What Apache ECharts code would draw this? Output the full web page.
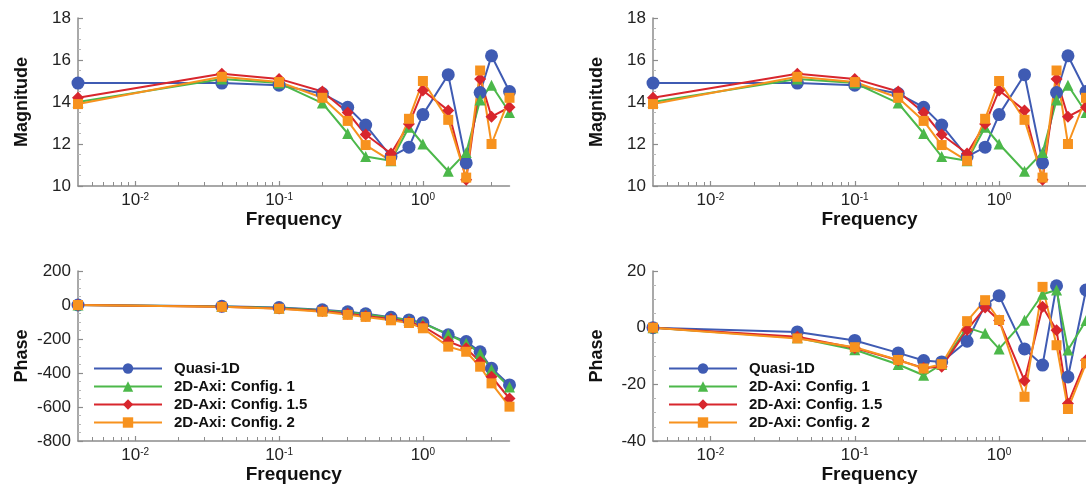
<!DOCTYPE html>
<html lang="en">
<head>
    <meta charset="UTF-8">
    <title>Frequency response</title>
    <script src="https://cdn.jsdelivr.net/npm/echarts@6/dist/echarts.min.js"></script>
    <style>
        body { margin: 0; overflow: hidden; background: #fff; }
    </style>
</head>
<body>
<div id="main" style="width: 1086px;height:489px;"></div>
<script type="text/javascript">
    // data
    var freq = [0.004, 0.04, 0.1, 0.2, 0.3, 0.4, 0.6, 0.8, 1.0, 1.5, 2.0, 2.5, 3.0, 4.0];
    var names = ['Quasi-1D', '2D-Axi: Config. 1', '2D-Axi: Config. 1.5', '2D-Axi: Config. 2'];

    // magnitude (top two panels, same curves)
    var magQuasi = [14.9, 14.9, 14.8, 14.4, 13.75, 12.9, 11.4, 11.85, 13.4, 15.3, 11.1, 14.45, 16.2, 14.5];
    var magC1    = [14.0, 15.1, 14.9, 13.95, 12.5, 11.4, 11.2, 12.8, 12.0, 10.7, 11.6, 14.1, 14.8, 13.5];
    var magC15   = [14.2, 15.35, 15.1, 14.5, 13.5, 12.45, 11.55, 12.95, 14.55, 13.6, 10.3, 15.1, 13.3, 13.75];
    var magC2    = [13.9, 15.2, 14.95, 14.2, 13.1, 11.95, 11.2, 13.2, 15.0, 13.15, 10.4, 15.5, 12.0, 14.2];

    // phase, bottom left
    var phaseQuasi = [0, -8, -15, -28, -40, -52, -72, -88, -104, -175, -215, -275, -372, -470];
    var phaseC1    = [0, -9, -17, -31, -44, -55, -75, -88, -108, -172, -225, -285, -380, -482];
    var phaseC15   = [0, -10, -20, -35, -52, -64, -83, -100, -125, -215, -255, -334, -422, -550];
    var phaseC2    = [0, -11, -22, -40, -58, -70, -90, -106, -137, -245, -275, -363, -461, -598];

    // phase, bottom right
    var relQuasi = [0, -1.5, -4.5, -8.9, -11.6, -12.1, -4.8, 8, 11.3, -7.5, -13.2, 14.8, -17.4, 13.3];
    var relC1    = [0, -3.6, -7.8, -13, -16.8, -13, 0, -2, -7.5, 2.6, 11.8, 13.3, -7.9, 2.5];
    var relC15   = [0, -3.2, -7.2, -11.5, -14.2, -13.8, -0.8, 7.1, 2.5, -18.7, 7.4, -0.9, -26.8, -11.5];
    var relC2    = [0, -3.8, -6.9, -11.4, -14.4, -12.9, 2.3, 9.7, 2.7, -24.4, 14.4, -6.2, -28.7, -12.6];

    // axes
    var freqMin = 0.004, freqMax = 4;
    var decades = [-2, -1, 0];
    var magAxis = {min: 10, max: 18, interval: 2, name: 'Magnitude'};
    var phaseAxis = {min: -800, max: 200, interval: 200, name: 'Phase'};
    var relAxis = {min: -40, max: 20, interval: 20, name: 'Phase'};

    var colors = ['#3f5bb3', '#4cb84a', '#d8262d', '#f7921e'];
    var symbols = ['circle', 'triangle', 'diamond', 'rect'];
    var sizes = [13, 11, 12, 10];
    var axisGray = '#8c8c8c';
    var font = 'Liberation Sans, Arial, Helvetica, sans-serif';

    var minorTicks = [];
    for (var d = -3; d <= 0; d++) {
        for (var m = 2; m <= 9; m++) {
            var v = Math.log10(m * Math.pow(10, d));
            if (v > Math.log10(freqMin) && v < Math.log10(freqMax)) minorTicks.push(v);
        }
    }

    var panels = [
        {grid: {left: 78, top: 18, width: 431.5, height: 168}, y: magAxis, sets: [magQuasi, magC1, magC15, magC2]},
        {grid: {left: 653, top: 18, width: 433, height: 168}, y: magAxis, sets: [magQuasi, magC1, magC15, magC2]},
        {grid: {left: 78, top: 271, width: 431.5, height: 170}, y: phaseAxis, sets: [phaseQuasi, phaseC1, phaseC15, phaseC2]},
        {grid: {left: 653, top: 271, width: 433, height: 170}, y: relAxis, sets: [relQuasi, relC1, relC15, relC2]}
    ];

    var grids = [], xAxes = [], yAxes = [], series = [];
    panels.forEach(function (p, gi) {
        grids.push(p.grid);
        // major x axis, log10 of frequency
        xAxes.push({
            type: 'value', gridIndex: gi, position: 'bottom',
            min: Math.log10(freqMin), max: Math.log10(freqMax),
            name: 'Frequency', nameLocation: 'middle', nameGap: 24,
            nameTextStyle: {fontSize: 19, fontWeight: 'bold', color: '#111', fontFamily: font},
            axisLine: {onZero: false, lineStyle: {color: axisGray, width: 1.5}},
            axisTick: {inside: true, length: 5, customValues: decades, lineStyle: {color: axisGray, width: 1.2}},
            axisLabel: {
                customValues: decades, margin: 6,
                formatter: function (v) { return '{b|10}{s|' + Math.round(v) + '}'; },
                rich: {
                    b: {fontSize: 17, color: '#222', fontFamily: font},
                    s: {fontSize: 10, color: '#222', fontFamily: font, verticalAlign: 'top', padding: [0, 0, 6, 0]}
                }
            },
            splitLine: {show: false}
        });
        yAxes.push({
            type: 'value', gridIndex: gi,
            min: p.y.min, max: p.y.max, interval: p.y.interval,
            name: p.y.name, nameLocation: 'middle', nameGap: 47,
            nameTextStyle: {fontSize: 18, fontWeight: 'bold', color: '#111', fontFamily: font},
            axisLine: {show: true, onZero: false, lineStyle: {color: axisGray, width: 1.5}},
            axisTick: {show: true, inside: true, length: 5, lineStyle: {color: axisGray, width: 1.2}},
            minorTick: {show: true, splitNumber: 4, length: 3, lineStyle: {color: '#b8b8b8'}},
            axisLabel: {fontSize: 17, color: '#222', margin: 7, fontFamily: font},
            splitLine: {show: false}
        });
    });
    // minor log ticks on a second x axis per grid, kept on the bottom edge
    panels.forEach(function (p, gi) {
        xAxes.push({
            type: 'value', gridIndex: gi, position: 'bottom', offset: 0,
            min: Math.log10(freqMin), max: Math.log10(freqMax),
            axisLine: {show: false, onZero: false},
            axisTick: {show: true, inside: true, length: 4, customValues: minorTicks, lineStyle: {color: '#8c8c8c', width: 1}},
            axisLabel: {show: false},
            splitLine: {show: false}
        });
    });

    panels.forEach(function (p, gi) {
        p.sets.forEach(function (arr, k) {
            series.push({
                type: 'line', name: names[k],
                xAxisIndex: gi, yAxisIndex: gi,
                data: freq.map(function (f, i) { return [Math.log10(f), arr[i]]; }),
                symbol: symbols[k], symbolSize: sizes[k],
                color: colors[k],
                lineStyle: {width: 2, color: colors[k]},
                itemStyle: {color: colors[k]},
                clip: false,
                animation: false
            });
        });
    });

    var legendBase = {
        orient: 'vertical', top: 361, padding: 0, itemWidth: 68, itemHeight: 13, itemGap: 3,
        selectedMode: false, data: names,
        textStyle: {fontSize: 15, fontWeight: 'bold', color: '#111', fontFamily: font, padding: [0, 0, 0, 7]}
    };

    var myChart = echarts.init(document.getElementById('main'));
    myChart.setOption({
        backgroundColor: '#fff',
        animation: false,
        grid: grids,
        xAxis: xAxes,
        yAxis: yAxes,
        legend: [
            Object.assign({left: 93}, legendBase),
            Object.assign({left: 668}, legendBase)
        ],
        series: series
    });
</script>
</body>
</html>
